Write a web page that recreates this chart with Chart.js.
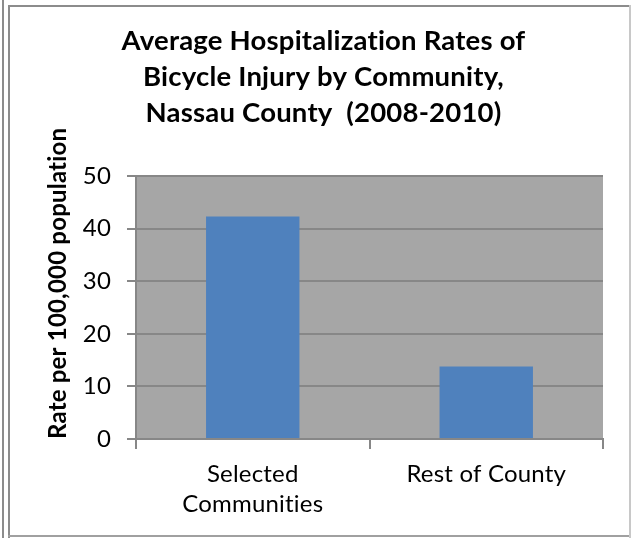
<!DOCTYPE html>
<html>
<head>
<meta charset="utf-8">
<script src="https://cdn.jsdelivr.net/npm/chart.js@4"></script>
<style>
  html, body { margin:0; padding:0; background:#fff; }
  #wrap { position:relative; width:631px; height:538px; overflow:hidden; }
  #c { position:absolute; left:0; top:0; }
  .ln { position:absolute; background:#8c8c8c; }
</style>
</head>
<body>
<div id="wrap">
  <canvas id="c" width="631" height="538"></canvas>
  <div class="ln" style="left:2px;top:0;width:2px;height:538px;"></div>
  <div class="ln" style="left:8px;top:5px;width:2px;height:533px;"></div>
  <div class="ln" style="left:8px;top:5px;width:623px;height:2px;"></div>
  <div class="ln" style="left:8px;top:535px;width:623px;height:2px;background:#a0a0a0;"></div>
  <div class="ln" style="left:629px;top:5px;width:2px;height:533px;background:#c8c8c8;"></div>
</div>
<script>
const categories = [["Selected", "Communities"], "Rest of County"];
const rates = [42.3, 13.8];
const yTicks = [0, 10, 20, 30, 40, 50];
const titleLines = ["Average Hospitalization Rates of", "Bicycle Injury by Community,", "Nassau County  (2008-2010)"];
const yTitle = "Rate per 100,000 population";

const FONT = "Lato, 'Open Sans', sans-serif";

const noLig = {
  id: 'noLig',
  beforeDraw(chart) { chart.ctx.letterSpacing = '0.2px'; },
  beforeLayout(chart) { chart.ctx.letterSpacing = '0.2px'; }
};
const plotBg = {
  id: 'plotBg',
  beforeDraw(chart) {
    const {ctx, chartArea: a} = chart;
    ctx.save();
    ctx.fillStyle = '#a6a6a6';
    ctx.fillRect(a.left, a.top, a.right - a.left, a.bottom - a.top);
    ctx.restore();
  }
};

new Chart(document.getElementById('c'), {
  type: 'bar',
  data: {
    labels: categories,
    datasets: [{
      data: rates,
      backgroundColor: '#4f81bd',
      borderWidth: 0,
      barPercentage: 0.4,
      categoryPercentage: 1.0
    }]
  },
  options: {
    responsive: false,
    animation: false,
    devicePixelRatio: 1,
    layout: { padding: { left: 44, right: 28, top: 23, bottom: 9 } },
    plugins: {
      legend: { display: false },
      tooltip: { enabled: false },
      title: {
        display: true,
        text: titleLines,
        color: '#000',
        font: { family: FONT, size: 27.5, weight: 'bold', lineHeight: 1.309 },
        padding: { top: 0, bottom: 45 },
        align: 'center'
      }
    },
    scales: {
      x: {
        offset: true,
        grid: {
          display: true,
          offset: true,
          drawOnChartArea: false,
          drawTicks: true,
          tickLength: 10,
          color: '#878787',
          lineWidth: 2
        },
        border: { display: true, color: '#878787', width: 2 },
        ticks: {
          color: '#000',
          font: { family: FONT, size: 24, lineHeight: 1.25 },
          padding: 10,
          maxRotation: 0,
          autoSkip: false
        }
      },
      y: {
        min: 0,
        max: 50,
        afterBuildTicks(scale) { scale.ticks = yTicks.map(v => ({ value: v })); },
        afterFit(scale) { scale.width = 92; },
        title: {
          display: true,
          text: yTitle,
          align: 'start',
          color: '#000',
          font: { family: FONT, size: 24, weight: 'bold', lineHeight: 1.0 },
          padding: { top: 2, bottom: 0 }
        },
        grid: {
          display: true,
          drawOnChartArea: true,
          drawTicks: true,
          tickLength: 9,
          color: '#878787',
          lineWidth: 2
        },
        border: { display: true, color: '#878787', width: 2 },
        ticks: {
          color: '#000',
          font: { family: FONT, size: 24 },
          padding: 16
        }
      }
    }
  },
  plugins: [noLig, plotBg]
});
</script>
</body>
</html>
